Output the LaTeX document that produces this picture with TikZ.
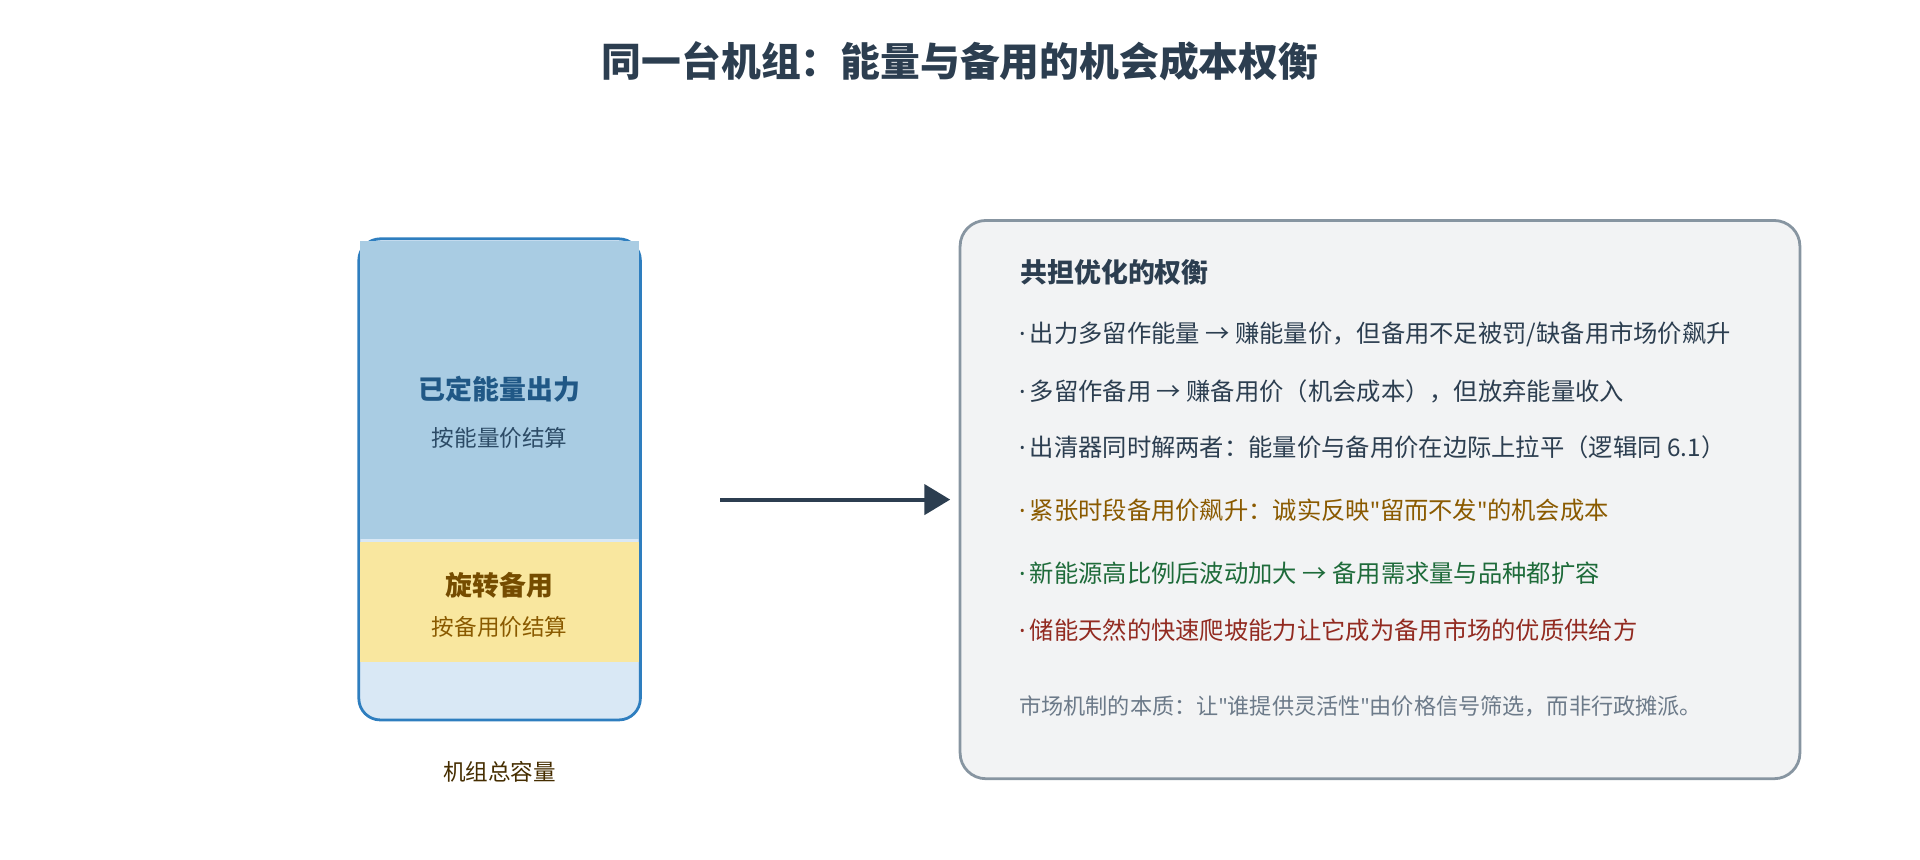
\documentclass[tikz,border=0pt]{standalone}
\usepackage{fontspec}
\setmainfont{Noto Sans CJK SC}
\newfontfamily\latinf{Noto Sans}
\newcommand{\qq}{{\latinf "}}
\newcommand{\bul}{{\latinf ·}\,}
\usetikzlibrary{positioning, arrows.meta}
\definecolor{titlec}{HTML}{2C3E50}
\definecolor{barline}{HTML}{2E7EBF}
\definecolor{barbg}{HTML}{D9E8F5}
\definecolor{energyc}{HTML}{A9CCE3}
\definecolor{reservec}{HTML}{F9E79F}
\definecolor{boxbg}{HTML}{F2F3F4}
\definecolor{boxline}{HTML}{8795A1}
\definecolor{brownc}{HTML}{8A5A00}
\definecolor{greenc}{HTML}{1E6B3A}
\definecolor{redc}{HTML}{922B21}
\definecolor{grayc}{HTML}{6C7A89}
\tikzstyle{heading} = [font=\bfseries\fontsize{12.5}{14}\selectfont, text=titlec]
\tikzstyle{sub} = [font=\fontsize{10.5}{12}\selectfont]
\tikzstyle{item} = [anchor=west, font=\fontsize{11.3}{13}\selectfont, text=titlec, inner sep=0pt]
\tikzstyle{arrow} = [line width=1.8pt, draw=titlec, -{Triangle[length=12pt,width=14pt]}]
\begin{document}
\begin{tikzpicture}[x=0.02cm, y=-0.02cm]
		\useasboundingbox (0,0) rectangle (1568,702);
		\node (title) [font=\bfseries\fontsize{18.5}{22}\selectfont, text=titlec] at (784,50) {同一台机组：能量与备用的机会成本权衡};
	
		% Capacity bar
		\node (bar) [draw=barline, line width=1.3pt, fill=barbg, rounded corners=10pt, minimum width=4.6cm, minimum height=7.86cm, inner sep=0pt] at (408,391.5) {};
		\node (energy) [fill=energyc, minimum width=4.56cm, minimum height=4.86cm, inner sep=0pt] at (408,318.5) {};
		\node (reserve) [fill=reservec, minimum width=4.56cm, minimum height=1.96cm, inner sep=0pt] at (408,492) {};
		\node (energyt) [heading, text=barline!70!black] at (408,318) {已定能量出力};
		\node (energys) [sub, text=titlec!80!barline] at (408,358) {按能量价结算};
		\node (reservet) [heading, text=brownc!85!black] at (408,478) {旋转备用};
		\node (reserves) [sub, text=brownc] at (408,512) {按备用价结算};
		\node (cap) [sub, text=brownc!50!black] at (408,630) {机组总容量};
	
		% Trade-off box
		\node (box) [draw=boxline, line width=1.3pt, fill=boxbg, rounded corners=12pt, minimum width=13.72cm, minimum height=9.12cm, inner sep=0pt] at (1127,408) {};
		\node (boxt) [heading, anchor=west, inner sep=0pt] at (833,222) {共担优化的权衡};
		\node (l1) [item] at (832,273) {\bul 出力多留作能量 → 赚能量价，但备用不足被罚/缺备用市场价飙升};
		\node (l2) [item] at (832,320) {\bul 多留作备用 → 赚备用价（机会成本），但放弃能量收入};
		\node (l3) [item] at (832,365) {\bul 出清器同时解两者：能量价与备用价在边际上拉平（逻辑同 6.1）};
		\node (l4) [item, text=brownc] at (832,417) {\bul 紧张时段备用价飙升：诚实反映\qq 留而不发\qq 的机会成本};
		\node (l5) [item, text=greenc] at (832,468) {\bul 新能源高比例后波动加大 → 备用需求量与品种都扩容};
		\node (l6) [item, text=redc] at (832,515) {\bul 储能天然的快速爬坡能力让它成为备用市场的优质供给方};
		\node (l7) [item, text=grayc, font=\fontsize{10.3}{12}\selectfont] at (832,577) {市场机制的本质：让\qq 谁提供灵活性\qq 由价格信号筛选，而非行政摊派。};
	
		% Flow
		\coordinate (from) at (588,408);
		\coordinate (to) at (776,408);
		\draw [arrow] (from) -- (to);
	\end{tikzpicture}
\end{document}
